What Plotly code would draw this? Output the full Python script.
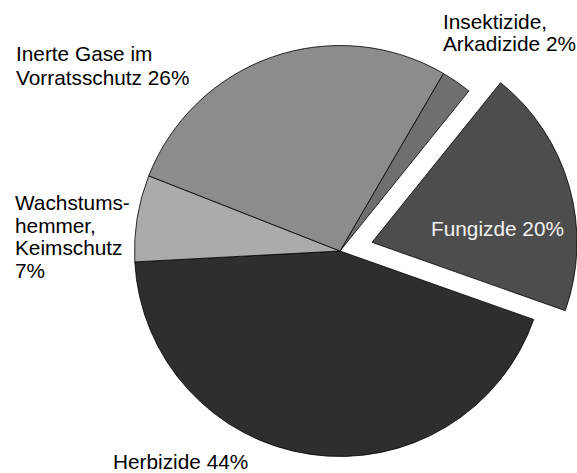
import plotly.graph_objects as go

# ---- data ----
categories = ["Insektizide, Arkadizide", "Fungizde", "Herbizide",
              "Wachstumshemmer, Keimschutz", "Inerte Gase im Vorratsschutz"]
shares = [2.4, 19.6, 43.7, 6.8, 27.4]          # slice sizes
pct_labels = ["2%", "20%", "44%", "7%", "26%"]  # printed percentages

# ---- style ----
colors = ["#6f6f6f", "#4d4d4d", "#2e2e2e", "#ababab", "#8c8c8c"]
W, H = 577, 473
exploded = 1  # index of pulled-out slice (Fungizde)
FONT = "Liberation Sans, Arial, sans-serif"


def px(x):
    return x / W


def py(y):
    return 1 - y / H


def trace(visible_mask, domain_x, domain_y):
    cols = [c if v else "rgba(0,0,0,0)" for c, v in zip(colors, visible_mask)]
    lw = [0.8 if v else 0 for v in visible_mask]
    return go.Pie(
        labels=categories, values=shares, sort=False, direction="clockwise",
        rotation=30.2, textinfo="none", hoverinfo="label+percent",
        marker=dict(colors=cols, line=dict(color="#000000", width=lw)),
        domain=dict(x=domain_x, y=domain_y), showlegend=False,
    )


mask_main = [i != exploded for i in range(len(categories))]
mask_pull = [i == exploded for i in range(len(categories))]

fig = go.Figure()
# main pie: centre (340, 251), radius 205.5
fig.add_trace(trace(mask_main, [px(134.5), px(545.5)], [py(456.5), py(45.5)]))
# exploded slice: centre shifted by the pull
fig.add_trace(trace(mask_pull, [px(167), 1.0], [py(447.3), py(37.3)]))

# ---- labels (one annotation per line) ----
label_lines = [
    (["Insektizide,", "Arkadizide " + pct_labels[0]], 442, [21, 44], "left", "#000000"),
    (["Fungizde " + pct_labels[1]], 430, [228], "left", "#f2f2f2"),
    (["Herbizide " + pct_labels[2]], 180, [461], "center", "#000000"),
    (["Wachstums-", "hemmer,", "Keimschutz", pct_labels[3]], 14,
     [202.5, 225.2, 247.9, 270.6], "left", "#000000"),
    (["Inerte Gase im", "Vorratsschutz " + pct_labels[4]], 15, [53.8, 77.7], "left", "#000000"),
]
annotations = []
for lines, x, ys, anchor, col in label_lines:
    for txt, y in zip(lines, ys):
        annotations.append(dict(
            text=txt, x=px(x), y=py(y), xref="paper", yref="paper",
            xanchor=anchor, yanchor="middle", showarrow=False,
            font=dict(family=FONT, size=20.8, color=col), borderpad=0,
        ))

fig.update_layout(
    width=W, height=H, margin=dict(l=0, r=0, t=0, b=0),
    paper_bgcolor="white", plot_bgcolor="white",
    annotations=annotations,
)

fig.write_html(
    "out.html",
    config={"displayModeBar": False},
    post_script="document.body.style.margin='0';document.body.style.overflow='hidden';",
)
